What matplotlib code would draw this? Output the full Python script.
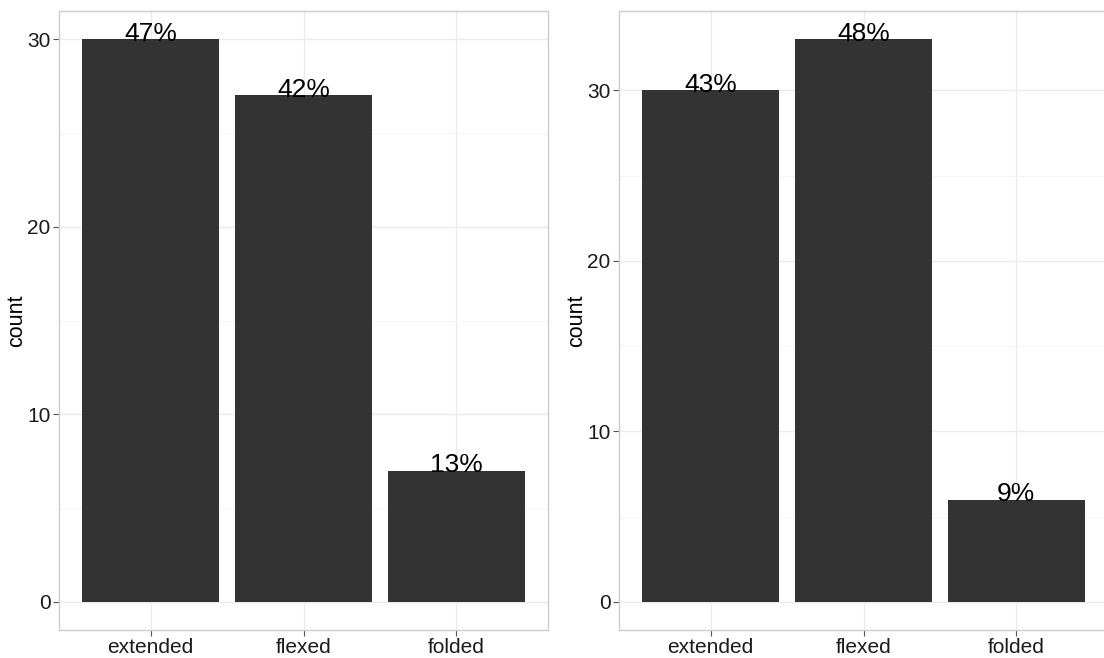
import matplotlib
matplotlib.use("Agg")
import matplotlib.pyplot as plt
import numpy as np

plt.rcParams['font.family'] = ['Liberation Sans', 'DejaVu Sans']

categories = ["extended", "flexed", "folded"]
counts_left = [30, 27, 7]
labels_left = ["47%", "42%", "13%"]
counts_right = [30, 33, 6]
labels_right = ["43%", "48%", "9%"]

fig = plt.figure(figsize=(11.04, 6.58), dpi=100)
W, H = 1104.0, 658.0


def panel(rect, counts, labels):
    x0, y0, x1, y1 = rect
    ax = fig.add_axes([x0 / W, 1 - y1 / H, (x1 - x0) / W, (y1 - y0) / H])
    xs = np.arange(1, len(categories) + 1)
    top = max(counts)
    ax.set_xlim(0.4, len(categories) + 0.6)
    ax.set_ylim(-0.05 * top, top * 1.05)
    ax.set_yticks([0, 10, 20, 30])
    ax.set_yticks([5, 15, 25], minor=True)
    ax.set_xticks(xs)
    ax.set_xticklabels(categories)
    ax.grid(which='major', color='#ebebeb', linewidth=1.0)
    ax.grid(which='minor', axis='y', color='#f4f4f4', linewidth=0.6)
    ax.set_axisbelow(True)
    ax.bar(xs, counts, width=0.9, color='#333333', zorder=2)
    for x, c, lab in zip(xs, counts, labels):
        ax.text(x, c - 0.1, lab, ha='center', va='baseline', fontsize=19, color='black', zorder=3)
    for s in ax.spines.values():
        s.set_color('#cccccc')
        s.set_linewidth(1.0)
    ax.tick_params(which='major', length=4, color='#555555', labelsize=15, labelcolor='#1a1a1a', pad=2)
    ax.tick_params(which='minor', length=0)
    ax.set_ylabel("count", fontsize=15.5, labelpad=0)
    return ax


panel((59, 11, 548, 630), counts_left, labels_left)
panel((619, 11, 1108, 630), counts_right, labels_right)

fig.savefig("out.png", dpi=100, facecolor='white')
